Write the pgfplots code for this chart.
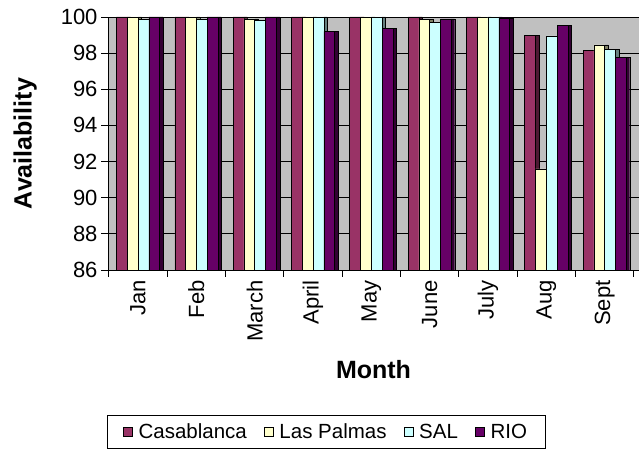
\documentclass[border=0pt]{standalone}
\usepackage{fontspec}
\setmainfont{Liberation Sans}
\usepackage{pgfplots}
\usepackage{pgfplotstable}
\pgfplotsset{compat=1.18}
\definecolor{casa}{HTML}{993366}
\definecolor{lasp}{HTML}{FFFFCC}
\definecolor{sal}{HTML}{CCFFFF}
\definecolor{rio}{HTML}{660066}
\definecolor{casad}{HTML}{4C1933}
\definecolor{laspd}{HTML}{808066}
\definecolor{sald}{HTML}{668080}
\definecolor{riod}{HTML}{330033}
\definecolor{bg}{HTML}{C0C0C0}
\pgfplotstableread{
x casa lasp sal rio
1 100 100 99.87 100
2 100 100 99.9 100
3 100 99.9 99.8 100
4 100 100 100 99.2
5 100 100 100 99.37
6 100 99.85 99.7 99.9
7 100 100 100 99.95
8 99.0 91.6 98.95 99.55
9 98.17 98.45 98.2 97.77
}\data
\begin{document}
\begin{tikzpicture}[x=1bp,y=1bp]
\useasboundingbox (0,0) rectangle (639,453);
\begin{axis}[
  at={(108bp,183bp)}, anchor=south west,
  width=531bp, height=253bp, scale only axis,
  xmin=0.485, xmax=9.59, ymin=86, ymax=100,
  ytick={86,88,...,100},
  xtick={1,...,9},
  xticklabels={Jan,Feb,March,April,May,June,July,Aug,Sept},
  minor xtick={0.5,1.5,...,9.5},
  major x tick style={draw=none},
  tick align=outside,
  major tick length=7bp, minor tick length=7bp,
  tick style={black, line width=0.8bp},
  xtick pos=bottom, ytick pos=left,
  ymajorgrids, grid style={black, line width=0.8bp},
  axis background/.style={fill=bg},
  axis line style={black, line width=0.8bp},
  /pgf/number format/assume math mode=true,
  x tick label style={rotate=90, anchor=east, font=\fontsize{22bp}{26bp}\selectfont},
  y tick label style={font=\fontsize{22bp}{26bp}\selectfont},
  xlabel={Month}, ylabel={Availability},
  label style={font=\bfseries\fontsize{25bp}{30bp}\selectfont},
  xlabel style={at={(axis description cs:0.5,-0.395)}, anchor=center},
  ylabel style={at={(axis description cs:-0.156,0.5)}, anchor=center},
  ybar,
  legend columns=4,
  legend style={at={(axis description cs:0.4105,-0.640)}, anchor=center,
    draw=black, line width=0.8bp, fill=white,
    font=\fontsize{20.5bp}{24bp}\selectfont,
    inner xsep=16bp, inner ysep=6bp,
    /tikz/every odd column/.append style={column sep=4bp},
    /tikz/every even column/.append style={column sep=15bp}},
  legend image code/.code={\draw[#1, draw=black, line width=0.6bp] (0bp,-4.5bp) rectangle (9bp,4.5bp);},
]
% side faces (drawn first, partly hidden by the neighbouring fronts)
\addplot[forget plot, fill=casad, draw=black, line width=0.4bp, bar width=3.5bp, bar shift=-9.05bp] table[x=x,y=casa]{\data};
\addplot[forget plot, fill=laspd, draw=black, line width=0.4bp, bar width=3.5bp, bar shift=1.75bp] table[x=x,y=lasp]{\data};
\addplot[forget plot, fill=sald, draw=black, line width=0.4bp, bar width=3.5bp, bar shift=12.55bp] table[x=x,y=sal]{\data};
\addplot[forget plot, fill=riod, draw=black, line width=0.4bp, bar width=3.5bp, bar shift=23.35bp] table[x=x,y=rio]{\data};
% front faces
\addplot[fill=casa, draw=black, line width=0.5bp, bar width=10.8bp, bar shift=-16.2bp] table[x=x,y=casa]{\data};
\addplot[fill=lasp, draw=black, line width=0.5bp, bar width=10.8bp, bar shift=-5.4bp] table[x=x,y=lasp]{\data};
\addplot[fill=sal, draw=black, line width=0.5bp, bar width=10.8bp, bar shift=5.4bp] table[x=x,y=sal]{\data};
\addplot[fill=rio, draw=black, line width=0.5bp, bar width=10.8bp, bar shift=16.2bp] table[x=x,y=rio]{\data};
\legend{Casablanca,Las Palmas,SAL,RIO}
\end{axis}
\end{tikzpicture}
\end{document}
